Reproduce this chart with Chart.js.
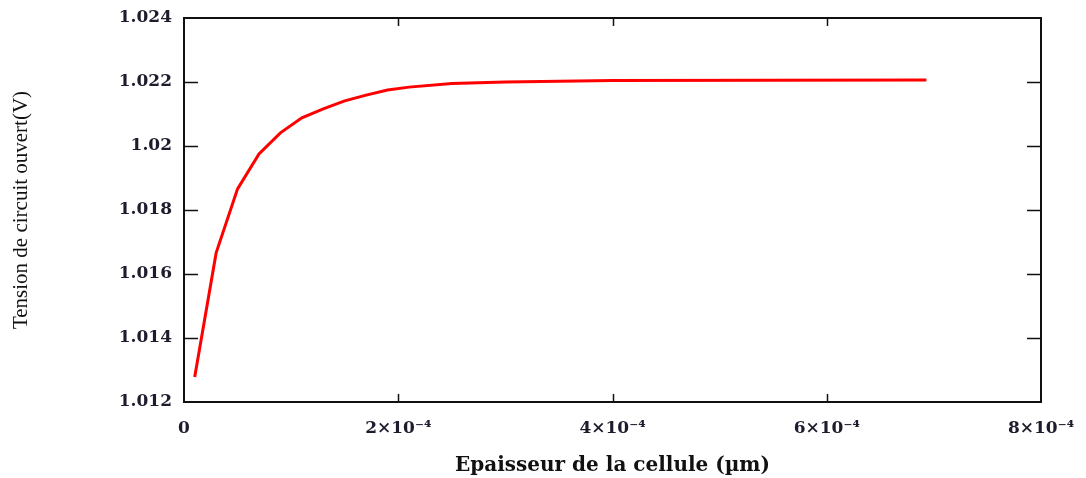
<!DOCTYPE html>
<html>
<head>
<meta charset="utf-8">
<script src="https://cdn.jsdelivr.net/npm/chart.js@4"></script>
<style>
  body { margin: 0; background: #fff; }
</style>
</head>
<body>
<canvas id="voc_chart" width="1086" height="478"></canvas>
<script>
// epaisseur (x) and tension de circuit ouvert (y)
var thickness = [1e-5, 3e-5, 5e-5, 7e-5, 9e-5, 11e-5, 13e-5, 15e-5, 17e-5, 19e-5, 21e-5, 25e-5, 30e-5, 40e-5, 6.93e-4];
var voltage = [1.01278, 1.01666, 1.01866, 1.01975, 1.02041, 1.02088, 1.02116, 1.02141, 1.02159, 1.02175, 1.02184, 1.02195, 1.0220, 1.02205, 1.02206];

var xTicks = [0, 2e-4, 4e-4, 6e-4, 8e-4];
var xTickLabels = ["0", "2\u00d710\u207b\u2074", "4\u00d710\u207b\u2074", "6\u00d710\u207b\u2074", "8\u00d710\u207b\u2074"];
var yTicks = [1.012, 1.014, 1.016, 1.018, 1.02, 1.022, 1.024];
var yTickLabels = ["1.012", "1.014", "1.016", "1.018", "1.02", "1.022", "1.024"];

var points = thickness.map(function(t, i) {
    return { x: t, y: voltage[i] };
});

// frame round the plot + small ticks pointing inward (mathcad style)
var framePlugin = {
    id: 'frame',
    afterDraw: function(chart) {
        var ctx = chart.ctx;
        var a = chart.chartArea;
        var sx = chart.scales.x, sy = chart.scales.y;
        ctx.save();
        ctx.strokeStyle = '#111';
        ctx.lineWidth = 1.5;
        xTicks.forEach(function(v, i) {
            if (i === 0 || i === xTicks.length - 1) return;
            var px = Math.round(sx.getPixelForValue(v)) + 0.5;
            ctx.beginPath();
            ctx.moveTo(px, a.bottom); ctx.lineTo(px, a.bottom - 8);
            ctx.moveTo(px, a.top); ctx.lineTo(px, a.top + 8);
            ctx.stroke();
        });
        yTicks.forEach(function(v, i) {
            if (i === 0 || i === yTicks.length - 1) return;
            var py = Math.round(sy.getPixelForValue(v)) + 0.5;
            ctx.beginPath();
            ctx.moveTo(a.left, py); ctx.lineTo(a.left + 14, py);
            ctx.moveTo(a.right, py); ctx.lineTo(a.right - 14, py);
            ctx.stroke();
        });
        ctx.lineWidth = 2;
        ctx.strokeRect(a.left, a.top, a.right - a.left, a.bottom - a.top);
        ctx.restore();
    }
};

var tickFont = { family: 'DejaVu Serif', size: 17, weight: 'bold' };

new Chart(document.getElementById("voc_chart"), {
    type: 'line',
    data: {
        datasets: [{
            label: 'Voc',
            data: points,
            borderColor: '#ff0000',
            borderWidth: 3,
            fill: false,
            lineTension: 0,
            pointRadius: 0
        }]
    },
    options: {
        responsive: false,
        animation: false,
        layout: { padding: { left: 0, top: 18, right: 45, bottom: 0 } },
        plugins: {
            legend: { display: false },
            tooltip: { enabled: false }
        },
        scales: {
            x: {
                type: 'linear',
                min: 0,
                max: 8e-4,
                afterFit: function(scale) { scale.height = 76; },
                afterBuildTicks: function(scale) {
                    scale.ticks = xTicks.map(function(v) { return { value: v }; });
                },
                grid: { display: false },
                border: { display: false },
                ticks: {
                    padding: 8,
                    color: '#1c1c2c',
                    font: tickFont,
                    maxRotation: 0,
                    callback: function(v) {
                        var i = xTicks.indexOf(v);
                        return i >= 0 ? xTickLabels[i] : '';
                    }
                },
                title: {
                    display: true,
                    text: 'Epaisseur de la cellule (\u00b5m)',
                    color: '#111',
                    font: { family: 'DejaVu Serif', size: 20, weight: 'bold' },
                    padding: { top: 0, bottom: 0 }
                }
            },
            y: {
                type: 'linear',
                min: 1.012,
                max: 1.024,
                afterFit: function(scale) { scale.width = 184; },
                afterBuildTicks: function(scale) {
                    scale.ticks = yTicks.map(function(v) { return { value: v }; });
                },
                grid: { display: false },
                border: { display: false },
                ticks: {
                    padding: 4,
                    color: '#1c1c2c',
                    font: tickFont,
                    callback: function(v) {
                        var i = yTicks.indexOf(v);
                        return i >= 0 ? yTickLabels[i] : '';
                    }
                },
                title: {
                    display: true,
                    text: 'Tension de circuit ouvert(V)',
                    color: '#111',
                    font: { family: 'Liberation Serif', size: 21 },
                    padding: { top: 9, bottom: 0 }
                }
            }
        }
    },
    plugins: [framePlugin]
});
</script>
</body>
</html>
